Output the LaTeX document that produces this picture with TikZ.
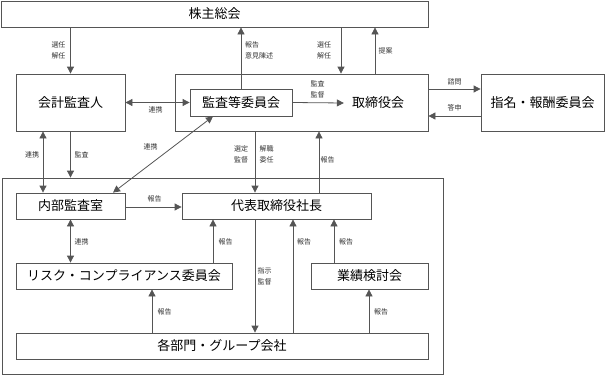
\documentclass[tikz,border=0pt]{standalone}
\usepackage{fontspec}
\setmainfont{Noto Sans CJK JP}
\usetikzlibrary{arrows.meta}
\definecolor{ln}{HTML}{555555}
\definecolor{lb}{HTML}{333333}
\begin{document}
\begin{tikzpicture}[x=1pt,y=-1pt,
  box/.style={draw=ln, line width=0.8pt, inner sep=0pt, font=\fontsize{13}{15}\selectfont, text=black},
  txt/.style={inner sep=0pt, font=\fontsize{13}{15}\selectfont, text=black},
  lab/.style={inner sep=0pt, font=\fontsize{7}{11}\selectfont, text=lb, align=left},
  arr/.style={draw=ln, line width=0.8pt, -{Triangle[length=7pt,width=7pt]}},
  darr/.style={draw=ln, line width=0.8pt, {Triangle[length=7pt,width=7pt]}-{Triangle[length=7pt,width=7pt]}}]
\useasboundingbox (0,0) rectangle (606,375);
% boxes
\node[box, minimum width=427pt, minimum height=26pt] (kabu) at (214.5,14) {株主総会};
\node[box, minimum width=109pt, minimum height=57pt] (kaikei) at (70.5,102.5) {会計監査人};
\node[box, minimum width=253pt, minimum height=57pt] (tori) at (301.5,102.5) {};
\node[box, minimum width=102pt, minimum height=27pt] (iinkai) at (241,102.5) {監査等委員会};
\node[txt] (toritext) at (378,103) {取締役会};
\node[box, minimum width=123pt, minimum height=57pt] (shimei) at (542.5,102.5) {指名・報酬委員会};
\node[box, minimum width=441pt, minimum height=196pt] (group) at (222.5,276) {};
\node[box, minimum width=109pt, minimum height=26pt] (naibu) at (70.5,206) {内部監査室};
\node[box, minimum width=189pt, minimum height=26pt] (daihyo) at (276.5,206) {代表取締役社長};
\node[box, minimum width=216pt, minimum height=26pt] (risk) at (124,276) {リスク・コンプライアンス委員会};
\node[box, minimum width=117pt, minimum height=26pt] (gyoseki) at (369.5,276) {業績検討会};
\node[box, minimum width=412pt, minimum height=26pt] (kakubu) at (222,346) {各部門・グループ会社};
% column / row coordinates
\coordinate (kx1) at (43,0);
\coordinate (tx1) at (341,0);
\coordinate (tx2) at (375,0);
\coordinate (tx3) at (319,0);
\coordinate (dx1) at (255,0);
\coordinate (rx) at (213,0);
\coordinate (kbx1) at (152,0);
\coordinate (kbx2) at (293,0);
\coordinate (kbx3) at (369,0);
\coordinate (gx) at (334,0);
\coordinate (ry1) at (0,89);
\coordinate (ry2) at (0,116);
\coordinate (ny) at (0,207);
\coordinate (dg1) at (113,0);
% arrows
\draw[arr] (kabu.south -| kaikei.north) -- (kaikei.north);
\draw[arr] (iinkai.north) -- (kabu.south -| iinkai.north);
\draw[arr] (kabu.south -| tx1) -- (tori.north -| tx1);
\draw[arr] (tori.north -| tx2) -- (kabu.south -| tx2);
\draw[darr] (kaikei.east) -- (iinkai.west);
\draw[arr] (iinkai.east) -- ([xshift=-8pt]toritext.west);
\draw[arr] (tori.east |- ry1) -- (shimei.west |- ry1);
\draw[arr] (shimei.west |- ry2) -- (tori.east |- ry2);
\draw[darr] (kaikei.south -| kx1) -- (naibu.north -| kx1);
\draw[arr] (kaikei.south) -- (group.north -| kaikei.south);
\draw[darr] (iinkai.south -| rx) -- (naibu.north -| dg1);
\draw[arr] (tori.south -| dx1) -- (daihyo.north -| dx1);
\draw[arr] (daihyo.north -| tx3) -- (tori.south -| tx3);
\draw[arr] (naibu.east |- ny) -- (daihyo.west |- ny);
\draw[darr] (naibu.south) -- (risk.north -| naibu.south);
\draw[arr] (risk.north -| rx) -- (daihyo.south -| rx);
\draw[arr] (daihyo.south -| dx1) -- (kakubu.north -| dx1);
\draw[arr] (kakubu.north -| kbx2) -- (daihyo.south -| kbx2);
\draw[arr] (gyoseki.north -| gx) -- (daihyo.south -| gx);
\draw[arr] (kakubu.north -| kbx1) -- (risk.south -| kbx1);
\draw[arr] (kakubu.north -| kbx3) -- (gyoseki.south -| kbx3);
% labels
\node[lab] (l1) at (58.5,50) {選任\\解任};
\node[lab, anchor=west] (l2) at (245,50) {報告\\意見陳述};
\node[lab] (l3) at (324,50) {選任\\解任};
\node[lab] (l4) at (385.5,51) {提案};
\node[lab] (l5) at (155.5,110) {連携};
\node[lab] (l6) at (317.5,89) {監査\\監督};
\node[lab] (l7) at (454.5,82) {諮問};
\node[lab] (l8) at (454.5,108) {答申};
\node[lab] (l9) at (32,155) {連携};
\node[lab] (l10) at (81.5,155) {監査};
\node[lab] (l11) at (150.5,147) {連携};
\node[lab] (l12) at (241,154) {選定\\監督};
\node[lab] (l13) at (266.5,154) {解職\\委任};
\node[lab] (l14) at (327.5,160) {報告};
\node[lab] (l15) at (154.5,199) {報告};
\node[lab] (l16) at (81.5,242) {連携};
\node[lab] (l17) at (225.5,242) {報告};
\node[lab] (l18) at (264.5,276) {指示\\監督};
\node[lab] (l19) at (304,242) {報告};
\node[lab] (l20) at (346,242) {報告};
\node[lab] (l21) at (164.5,312) {報告};
\node[lab] (l22) at (381,312) {報告};
\end{tikzpicture}
\end{document}
